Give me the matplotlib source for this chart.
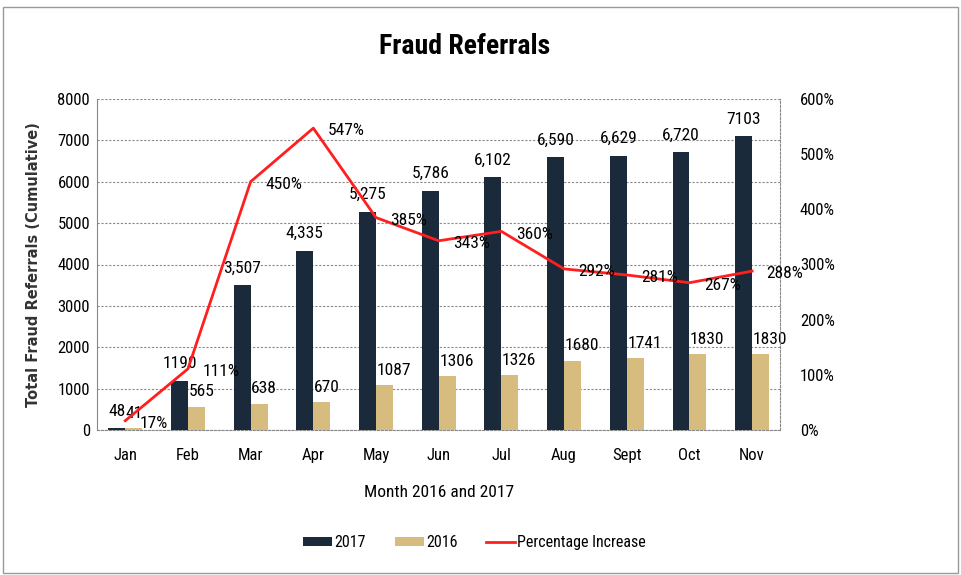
import matplotlib
matplotlib.use("Agg")
import matplotlib.pyplot as plt
from matplotlib import font_manager
from matplotlib.patches import Rectangle
import numpy as np

months = ["Jan", "Feb", "Mar", "Apr", "May", "Jun", "Jul", "Aug", "Sept", "Oct", "Nov"]
refs_2017 = [48, 1190, 3507, 4335, 5275, 5786, 6102, 6590, 6629, 6720, 7103]
refs_2016 = [41, 565, 638, 670, 1087, 1306, 1326, 1680, 1741, 1830, 1830]
labels_2017 = ["48", "1190", "3,507", "4,335", "5,275", "5,786", "6,102", "6,590", "6,629", "6,720", "7103"]
labels_2016 = ["41", "565", "638", "670", "1087", "1306", "1326", "1680", "1741", "1830", "1830"]
pct_increase = [17, 111, 450, 547, 385, 343, 360, 292, 281, 267, 288]

# pick a narrow font if one is installed
names = {f.name for f in font_manager.fontManager.ttflist}
narrow = None
for cand in ["Liberation Sans Narrow", "DejaVu Sans Condensed", "Roboto Condensed",
             "Open Sans Condensed", "Noto Sans Condensed"]:
    if cand in names:
        narrow = cand
        break
if narrow is None:
    narrow = "DejaVu Sans"
    plt.rcParams['font.stretch'] = 'condensed'
plt.rcParams['font.family'] = [narrow, 'DejaVu Sans']

dark = "#1b2a3a"
tan = "#d6bc7e"
red = "#ff1f1f"

fig = plt.figure(figsize=(9.61, 5.75), dpi=100)
ax = fig.add_axes([0.101, 0.252, 0.711, 0.576])
x = np.arange(len(months))
w = 0.27

ax.bar(x - w / 2, refs_2017, w, color=dark, label="2017", zorder=3)
ax.bar(x + w / 2, refs_2016, w, color=tan, label="2016", zorder=3)

for i in range(len(months)):
    ax.text(x[i] - w / 2, refs_2017[i] + 230, labels_2017[i], ha="center", va="bottom",
            fontsize=12.5, zorder=5)
    ax.text(x[i] + 0.01, refs_2016[i] + 180, labels_2016[i], ha="left", va="bottom",
            fontsize=12.5, zorder=5)

ax.set_ylim(0, 8000)
ax.set_yticks(range(0, 8001, 1000))
ax.set_xlim(-0.45, len(months) - 0.55)
ax.set_xticks(x)
ax.set_xticklabels(months)
ax.tick_params(axis="x", length=0, labelsize=12, pad=13)
ax.tick_params(axis="y", length=0, labelsize=12, pad=5)
ax.yaxis.grid(True, linestyle=(0, (2, 1.5)), color="#8a8a8a", linewidth=0.8, zorder=0)
for s in ["top", "right"]:
    ax.spines[s].set_visible(False)
ax.spines["left"].set_color("#888888")
ax.spines["bottom"].set_color("#888888")
ax.spines["bottom"].set_linestyle((0, (2, 1.5)))
ax.set_ylabel("Total Fraud Referrals (Cumulative)", family="DejaVu Sans", fontsize=10.5,
              fontweight="bold", color="#333333", labelpad=12)
ax.set_xlabel("Month 2016 and 2017", fontsize=12.5, labelpad=16)

ax2 = ax.twinx()
ax2.plot(x, pct_increase, color=red, linewidth=2, zorder=4, label="Percentage Increase")
for i in range(len(months)):
    ax2.text(x[i] + 0.23, pct_increase[i] - 5, f"{pct_increase[i]}%", ha="left", va="center",
             fontsize=12.5, zorder=6)
ax2.set_ylim(0, 600)
ax2.set_yticks(range(0, 601, 100))
ax2.set_yticklabels([f"{v}%" for v in range(0, 601, 100)])
ax2.tick_params(axis="y", length=0, labelsize=12, pad=14)
for s in ["top", "left", "bottom"]:
    ax2.spines[s].set_visible(False)
ax2.spines["right"].set_color("#888888")
ax2.spines["right"].set_linestyle((0, (2, 1.5)))
ax2.set_zorder(ax.get_zorder() + 1)
ax2.patch.set_visible(False)

fig.text(0.484, 0.92, "Fraud Referrals", ha="center", va="center", fontsize=20, fontweight="bold")

h1, l1 = ax.get_legend_handles_labels()
h2, l2 = ax2.get_legend_handles_labels()
fig.legend(h1 + h2, l1 + l2, loc="center", bbox_to_anchor=(0.494, 0.056), ncol=3,
           frameon=False, fontsize=11.5, handlelength=1.8, handleheight=0.5,
           columnspacing=1.8, handletextpad=0.15)

fig.patches.append(Rectangle((0.003, 0.003), 0.994, 0.985, transform=fig.transFigure,
                             fill=False, edgecolor="#999999", linewidth=1))

fig.savefig("out.png", dpi=100)
